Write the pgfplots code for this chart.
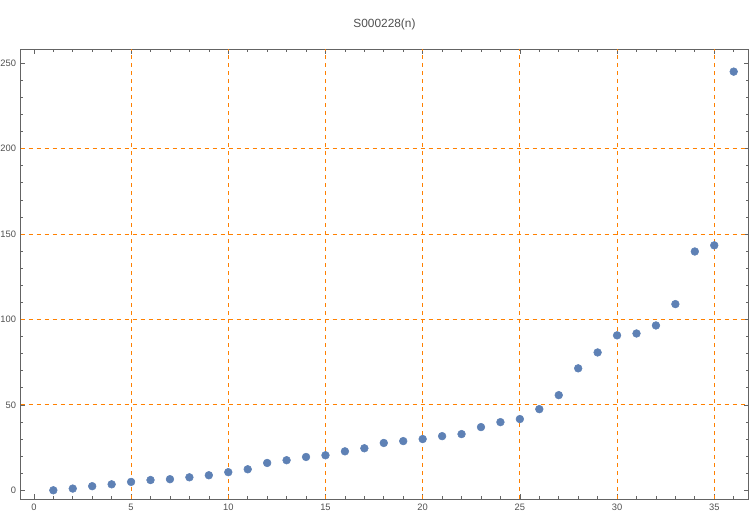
\documentclass[border=0pt]{standalone}
\usepackage{fontspec}
\setmainfont{Liberation Sans}
\usepackage{pgfplots}
\pgfplotsset{compat=1.18}
\definecolor{ptblue}{RGB}{94,129,181}
\definecolor{gridorange}{RGB}{255,128,0}
\definecolor{framegray}{RGB}{100,100,100}
\definecolor{labelgray}{RGB}{80,80,80}
\begin{document}
\begin{tikzpicture}
\useasboundingbox (0,0) rectangle (562.5pt,387.75pt);
\begin{axis}[
  at={(15.5pt,13.5pt)}, anchor=south west,
  scale only axis,
  width=545.7pt, height=337.3pt,
  xmin=-0.68, xmax=36.75,
  ymin=-5.1, ymax=258.2,
  xtick={0,5,...,35}, ytick={0,50,...,250},
  minor xtick={0,...,36}, minor ytick={0,10,...,250},
  tick align=inside,
  major tick length=3.5pt, minor tick length=2pt,
  axis line style={framegray, line width=0.6pt},
  every tick/.style={framegray, line width=0.5pt},
  tick label style={font=\fontsize{7}{8}\selectfont, text=labelgray},
  /pgf/number format/assume math mode=true,
  extra x ticks={5,10,...,35}, extra x tick labels={},
  extra y ticks={50,100,150,200}, extra y tick labels={},
  extra tick style={grid=major, major grid style={gridorange, dashed, line width=0.6pt}, major tick length=0pt},
  title={S000228(n)},
  title style={font=\fontsize{8.9}{10}\selectfont, text=labelgray, at={(0.5,1)}, anchor=south, yshift=5.25pt},
  clip=false,
]
\addplot[only marks, mark=*, mark size=2.9pt, mark options={fill=ptblue, draw=ptblue}] coordinates {
(1,0) (2,1) (3,2.4) (4,3.5) (5,4.9) (6,6) (7,6.5) (8,7.6) (9,8.8) (10,10.6)
(11,12.3) (12,16) (13,17.6) (14,19.5) (15,20.5) (16,22.8) (17,24.6) (18,27.7)
(19,28.8) (20,30) (21,31.7) (22,32.9) (23,37) (24,39.9) (25,41.7) (26,47.5)
(27,55.7) (28,71.4) (29,80.7) (30,90.7) (31,91.8) (32,96.5) (33,109) (34,139.8)
(35,143.4) (36,245.1)
};
\end{axis}
\end{tikzpicture}
\end{document}
